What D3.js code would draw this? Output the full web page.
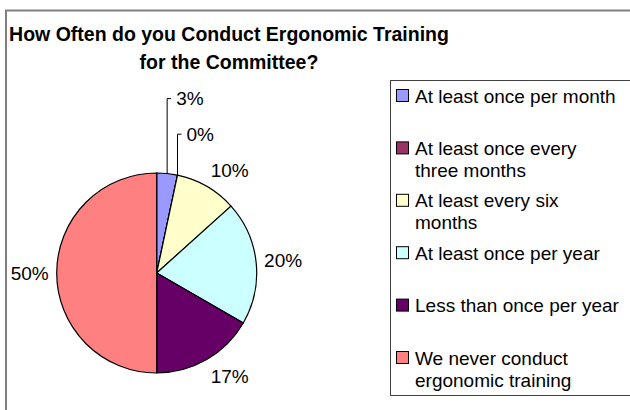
<!DOCTYPE html>
<html>
<head>
<meta charset="utf-8">
<script src="https://cdnjs.cloudflare.com/ajax/libs/d3/7.8.5/d3.min.js"></script>
<style>
  body { margin: 0; background: #fff; }
  svg { display: block; font-family: "Liberation Sans", Arial, sans-serif; }
</style>
</head>
<body>
<div class="container"></div>
<script>
// survey answers (number of responses)
const categories = ["At least once per month", "At least once every three months", "At least every six months",
                    "At least once per year", "Less than once per year", "We never conduct ergonomic training"]
const responses = [1, 0, 3, 6, 5, 15]
const colors = ["#9999ff", "#993366", "#ffffcc", "#ccffff", "#660066", "#ff8080"]
const titleLines = ["How Often do you Conduct Ergonomic Training", "for the Committee?"]

document.addEventListener("DOMContentLoaded", () => {
    const width = 630
    const height = 410
    const cx = 156.7, cy = 273, radius = 100
    const total = d3.sum(responses)

    const svg = d3.select(".container").append("svg").attr("width", width).attr("height", height)

    // chart frame
    svg.append("rect")
        .attr("x", 6).attr("y", 10.5)
        .attr("width", 700).attr("height", 500)
        .attr("fill", "#fff").attr("stroke", "#808080").attr("stroke-width", 2)

    svg.append("g").selectAll("text")
        .data(titleLines)
        .enter()
        .append("text")
        .attr("x", 229)
        .attr("y", (d, i) => 41 + i * 28)
        .attr("text-anchor", "middle")
        .style("font-size", "19.5px")
        .style("font-weight", "bold")
        .text(d => d)

    const pie = d3.pie().sort(null).value(d => d)
    const arcs = pie(responses)
    const arc = d3.arc().innerRadius(0).outerRadius(radius)
    const labelArc = d3.arc().innerRadius(108).outerRadius(108)
    const edgeArc = d3.arc().innerRadius(radius).outerRadius(radius)

    const g = svg.append("g").attr("transform", `translate(${cx},${cy})`)
    g.selectAll("path")
        .data(arcs)
        .enter()
        .append("path")
        .attr("d", arc)
        .attr("fill", (d, i) => colors[i])
        .attr("stroke", "#000")
        .attr("stroke-width", 1.2)

    const pct = d => Math.round(d.value / total * 100) + "%"
    const mid = d => (d.startAngle + d.endAngle) / 2

    // small slices get a leader line going up
    const small = arcs.filter(d => d.value / total < 0.05)
    const rise = [75, 41]
    small.forEach((d, k) => {
        const p = edgeArc.centroid(d)
        const top = p[1] - rise[k]
        g.append("path")
            .attr("d", `M${p[0]},${p[1]} L${p[0]},${top} L${p[0] + 4},${top}`)
            .attr("fill", "none").attr("stroke", "#000").attr("stroke-width", 1)
        g.append("text")
            .attr("x", p[0] + 9)
            .attr("y", top)
            .attr("dy", "0.35em")
            .style("font-size", "19px")
            .text(pct(d))
    })

    g.selectAll(".lbl")
        .data(arcs.filter(d => d.value / total >= 0.05))
        .enter()
        .append("text")
        .attr("class", "lbl")
        .attr("x", d => labelArc.centroid(d)[0])
        .attr("y", d => labelArc.centroid(d)[1] - Math.cos(mid(d)) * 11)
        .attr("dy", "0.35em")
        .attr("text-anchor", d => Math.sin(mid(d)) >= 0 ? "start" : "end")
        .style("font-size", "19px")
        .text(pct)

    // legend
    const legendY = d3.scalePoint().domain(categories).range([96, 358])
    svg.append("rect")
        .attr("x", 390.5).attr("y", 80.5)
        .attr("width", 300).attr("height", 315)
        .attr("fill", "#fff").attr("stroke", "#404040").attr("stroke-width", 1)

    const legend = svg.append("g")
    categories.forEach((c, i) => {
        const y = legendY(c)
        legend.append("rect")
            .attr("x", 396.5).attr("y", y - 6.5)
            .attr("width", 12).attr("height", 12)
            .attr("fill", colors[i]).attr("stroke", "#000").attr("stroke-width", 1)
        const t = legend.append("text")
            .attr("x", 415).attr("y", y)
            .style("font-size", "19px")
        // wrap words to fit the legend box
        const words = c.split(" ")
        let line = [], lineNo = 0
        let tspan = t.append("tspan").attr("x", 415).attr("dy", "0.35em")
        words.forEach(w => {
            line.push(w)
            tspan.text(line.join(" "))
            if (tspan.node().getComputedTextLength() > 207 && line.length > 1) {
                line.pop()
                tspan.text(line.join(" "))
                line = [w]
                lineNo++
                tspan = t.append("tspan").attr("x", 415).attr("y", y + lineNo * 22).attr("dy", "0.35em").text(w)
            }
        })
    })
})
</script>
</body>
</html>
